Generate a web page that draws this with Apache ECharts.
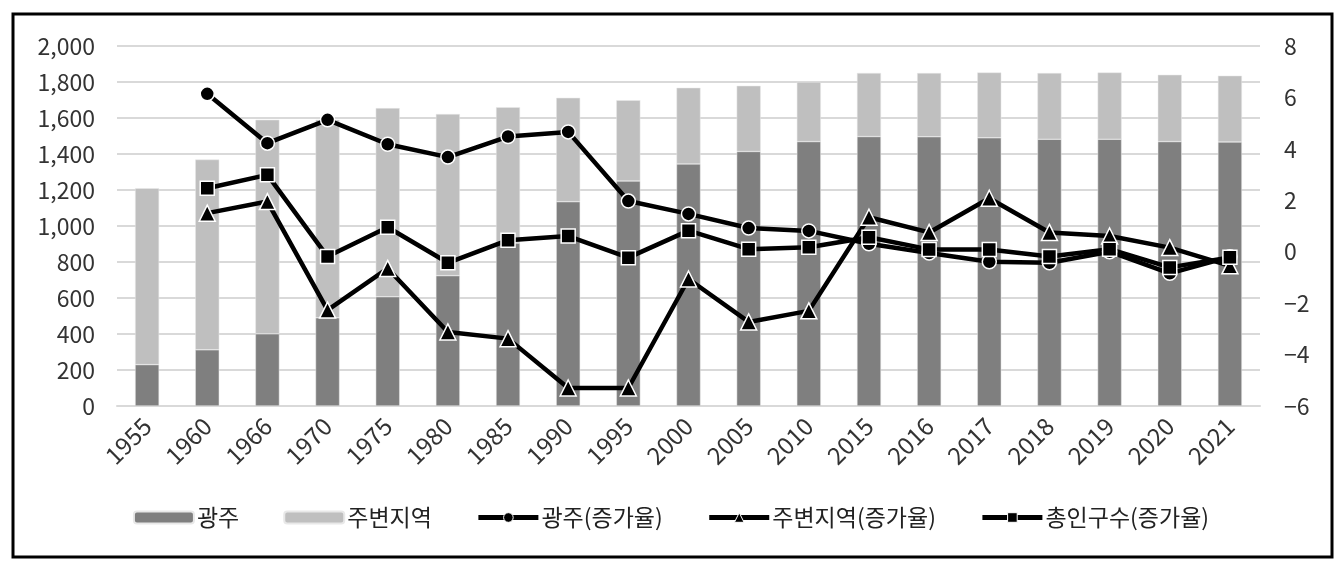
<!DOCTYPE html>
<html>
<head>
<meta charset="utf-8">
<script src="https://cdn.jsdelivr.net/npm/echarts@6/dist/echarts.min.js"></script>
<style>
html,body{margin:0;padding:0;background:#fff;}
#c{width:1342px;height:573px;}
</style>
</head>
<body>
<div id="c"></div>
<script>
const categories = ['1955','1960','1966','1970','1975','1980','1985','1990','1995','2000','2005','2010','2015','2016','2017','2018','2019','2020','2021'];
const gwangju = [230, 312, 401, 490, 607, 724, 905, 1135, 1250, 1345, 1414, 1469, 1497, 1496, 1490, 1482, 1482, 1469, 1467];
const suburbs = [980, 1057, 1189, 1100, 1048, 898, 755, 577, 449, 423, 365, 331, 353, 354, 363, 368, 371, 371, 368];
const gwangjuRate = [null, 6.14, 4.22, 5.13, 4.18, 3.68, 4.48, 4.66, 1.97, 1.47, 0.92, 0.81, 0.31, -0.05, -0.39, -0.43, 0.0, -0.84, -0.2];
const suburbsRate = [null, 1.5, 1.95, -2.27, -0.65, -3.12, -3.38, -5.3, -5.3, -1.06, -2.73, -2.3, 1.34, 0.75, 2.08, 0.75, 0.61, 0.16, -0.55];
const totalRate = [null, 2.47, 2.99, -0.19, 0.95, -0.43, 0.45, 0.61, -0.23, 0.82, 0.1, 0.17, 0.56, 0.09, 0.09, -0.19, 0.1, -0.61, -0.22];

const font = '"Noto Sans CJK KR", "Noto Sans", sans-serif';
const chart = echarts.init(document.getElementById('c'));
const lineSeries = (name, data, symbol) => ({
  name, type: 'line', yAxisIndex: 1, data, symbol, symbolSize: symbol === 'triangle' ? 16 : 14,
  lineStyle: {color: '#000', width: 4.5},
  itemStyle: {color: '#000', borderColor: '#fff', borderWidth: 1.5},
  connectNulls: false
});
const legendLine = name => ({name, lineStyle: {width: 5, color: '#000'}, itemStyle: {color: '#000', borderColor: '#fff', borderWidth: 1}});
chart.setOption({
  animation: false,
  textStyle: {fontFamily: font},
  graphic: [{
    type: 'rect', shape: {x: 13, y: 14, width: 1319, height: 543},
    style: {fill: 'none', stroke: '#000', lineWidth: 3}, silent: true
  }],
  grid: {left: 117, right: 82, top: 46, bottom: 167},
  legend: {
    bottom: 39, left: 'center', itemWidth: 60, itemHeight: 12, itemGap: 44,
    textStyle: {fontFamily: font, fontSize: 23, color: '#222', padding: [0, 0, 0, -2]},
    data: [{name: '광주'}, {name: '주변지역'}, legendLine('광주(증가율)'), legendLine('주변지역(증가율)'), legendLine('총인구수(증가율)')]
  },
  xAxis: {
    type: 'category', data: categories,
    axisTick: {show: false},
    axisLine: {lineStyle: {color: '#d9d9d9', width: 2}},
    axisLabel: {rotate: 45, fontSize: 24, color: '#333', margin: 16, fontFamily: font}
  },
  yAxis: [{
    type: 'value', min: 0, max: 2000, interval: 200,
    axisLabel: {fontSize: 23, color: '#333', margin: 22, fontFamily: font,
      formatter: v => v.toLocaleString('en-US')},
    splitLine: {lineStyle: {color: '#d9d9d9', width: 2}},
    axisLine: {show: false}, axisTick: {show: false}
  }, {
    type: 'value', min: -6, max: 8, interval: 2,
    axisLabel: {fontSize: 23, color: '#333', margin: 24, fontFamily: font,
      formatter: v => String(v).replace('-', '−')},
    splitLine: {show: false}, axisLine: {show: false}, axisTick: {show: false}
  }],
  series: [
    {name: '광주', type: 'bar', stack: 'pop', data: gwangju, barWidth: 24,
      itemStyle: {color: '#7f7f7f', borderColor: '#e8e8e8', borderWidth: 0.5}},
    {name: '주변지역', type: 'bar', stack: 'pop', data: suburbs, barWidth: 24,
      itemStyle: {color: '#bfbfbf', borderColor: '#e8e8e8', borderWidth: 0.5}},
    lineSeries('광주(증가율)', gwangjuRate, 'circle'),
    lineSeries('주변지역(증가율)', suburbsRate, 'triangle'),
    lineSeries('총인구수(증가율)', totalRate, 'rect')
  ]
});
</script>
</body>
</html>
